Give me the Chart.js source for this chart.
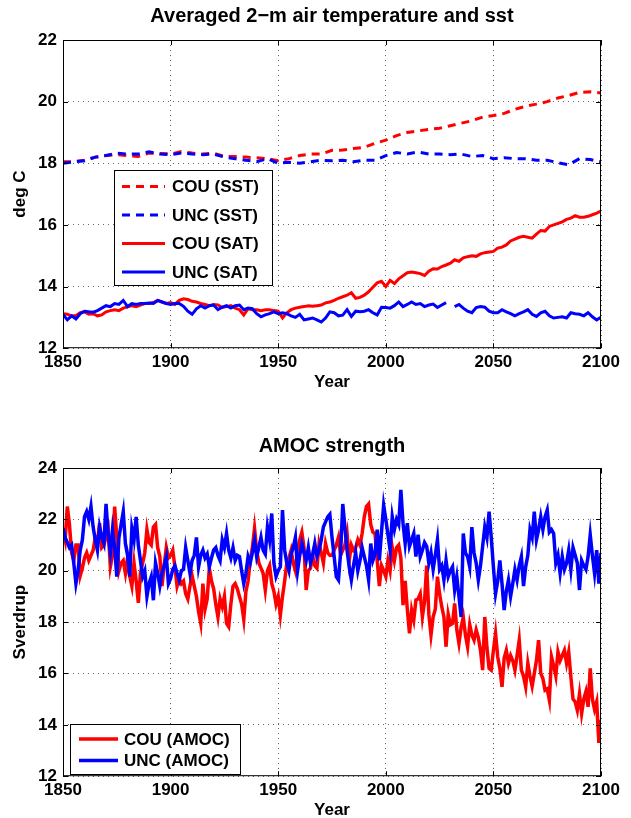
<!DOCTYPE html>
<html>
<head>
<meta charset="utf-8">
<script src="https://cdn.jsdelivr.net/npm/chart.js@4"></script>
<style>
  body { margin: 0; background: #fff; overflow: hidden; width: 631px; height: 818px; position: relative; }
  canvas { position: absolute; left: 0; }
</style>
</head>
<body>
<canvas id="tempChart" width="631" height="393" style="top:0"></canvas>
<canvas id="amocChart" width="631" height="411" style="top:410px"></canvas>
<script>
// years for each series
function yearsStep(a, b, s) {
    const out = [];
    for (let y = a; y <= b; y += s) out.push(y);
    return out;
}
const yearsSST = yearsStep(1850, 2100, 5);
const yearsSAT = yearsStep(1850, 2100, 2);
const yearsAMOC = yearsStep(1850, 2100, 1);

const yearTicks = [1850, 1900, 1950, 2000, 2050, 2100];

// SST, every 5 years
const couSST = [18.05, 18.05, 18.1, 18.2, 18.25, 18.28, 18.25, 18.22, 18.33, 18.32,
    18.3, 18.38, 18.33, 18.3, 18.33, 18.22, 18.22, 18.2, 18.18, 18.15,
    18.08, 18.15, 18.25, 18.3, 18.3, 18.42, 18.43, 18.48, 18.52, 18.65,
    18.75, 18.9, 19.0, 19.05, 19.1, 19.14, 19.22, 19.3, 19.38, 19.5,
    19.55, 19.62, 19.75, 19.85, 19.92, 20.0, 20.12, 20.2, 20.3, 20.32, 20.28];
const uncSST = [18.0, 18.05, 18.08, 18.2, 18.25, 18.33, 18.3, 18.3, 18.37, 18.3,
    18.28, 18.33, 18.3, 18.28, 18.3, 18.2, 18.15, 18.1, 18.05, 18.15,
    18.0, 18.03, 18.0, 18.05, 18.1, 18.08, 18.1, 18.05, 18.1, 18.1,
    18.25, 18.35, 18.3, 18.37, 18.3, 18.3, 18.28, 18.3, 18.22, 18.25,
    18.15, 18.18, 18.15, 18.15, 18.1, 18.1, 18.02, 17.95, 18.15, 18.12, 18.05];

// SAT, every 2 years
const couSAT = [13.12, 13.1, 13.05, 13.05, 13.15, 13.18, 13.1, 13.12, 13.05, 13.08,
    13.18, 13.22, 13.25, 13.22, 13.3, 13.34, 13.38, 13.35, 13.4, 13.45,
    13.45, 13.48, 13.55, 13.5, 13.45, 13.48, 13.42, 13.55, 13.6, 13.58,
    13.52, 13.5, 13.45, 13.42, 13.38, 13.42, 13.4, 13.32, 13.35, 13.38,
    13.3, 13.25, 13.08, 13.28, 13.25, 13.25, 13.22, 13.25, 13.25, 13.22,
    13.2, 12.98, 13.15, 13.25, 13.3, 13.33, 13.35, 13.38, 13.36, 13.38,
    13.4, 13.47, 13.5, 13.55, 13.62, 13.67, 13.72, 13.8, 13.62, 13.65,
    13.72, 13.83, 13.98, 14.12, 14.17, 14.0, 14.2, 14.1, 14.25, 14.35,
    14.45, 14.47, 14.45, 14.42, 14.36, 14.5, 14.58, 14.57, 14.65, 14.7,
    14.76, 14.87, 14.82, 14.93, 14.97, 15.0, 14.98, 15.06, 15.1, 15.12,
    15.14, 15.25, 15.28, 15.35, 15.48, 15.54, 15.6, 15.63, 15.6, 15.57,
    15.7, 15.82, 15.8, 15.95, 16.0, 16.05, 16.1, 16.18, 16.22, 16.3,
    16.25, 16.25, 16.28, 16.33, 16.38, 16.45];
const uncSAT = [13.1, 12.92, 13.05, 12.95, 13.12, 13.2, 13.18, 13.17, 13.22, 13.3,
    13.38, 13.35, 13.45, 13.42, 13.55, 13.35, 13.45, 13.42, 13.45, 13.45,
    13.47, 13.45, 13.55, 13.5, 13.45, 13.42, 13.45, 13.45, 13.36, 13.2,
    13.1, 13.28, 13.38, 13.3, 13.38, 13.4, 13.25, 13.33, 13.38, 13.3,
    13.38, 13.4, 13.25, 13.3, 13.28, 13.12, 13.02, 13.08, 13.12, 13.18,
    13.12, 13.15, 13.12, 13.05, 13.0, 13.1, 12.92, 12.95, 12.98, 12.92,
    12.85, 12.98, 13.18, 13.15, 13.05, 13.07, 13.25, 13.03, 13.2, 13.18,
    13.2, 13.25, 13.15, 13.08, 13.33, 13.32, 13.3, 13.38, 13.5, 13.35,
    13.42, 13.5, 13.42, 13.45, 13.35, 13.4, 13.43, 13.32, 13.4, 13.48,
    null, 13.35, 13.42, 13.3, 13.2, 13.15, 13.32, 13.35, 13.33, 13.2,
    13.15, 13.15, 13.25, 13.18, 13.12, 13.05, 13.12, 13.18, 13.25, 13.1,
    13.03, 13.15, 13.2, 13.05, 12.98, 13.0, 13.02, 12.98, 13.15, 13.12,
    13.1, 13.05, 13.15, 13.02, 12.92, 13.0];

// AMOC, yearly (one row per decade)
const couAMOC = [
    21.6, 21.2, 22.5, 21.8, 20.7, 20.4, 21.0, 21.0, 19.8, 20.1,
    20.5, 20.7, 20.4, 20.6, 20.8, 21.3, 21.1, 21.85, 20.9, 21.0,
    21.3, 21.6, 20.15, 20.6, 22.5, 21.3, 20.0, 20.3, 20.4, 19.9,
    20.5, 19.8, 19.4, 20.3, 19.6, 18.75, 19.9, 20.3, 20.7, 21.6,
    21.1, 21.0, 21.7, 21.8, 20.9, 20.55, 19.4, 20.2, 20.9, 20.5,
    20.6, 20.8, 20.15, 19.4, 19.7, 19.5, 19.6, 19.1, 18.9, 19.4,
    19.8, 19.4, 19.0, 18.4, 17.95, 19.5, 18.5, 18.9, 20.1, 19.6,
    19.3, 18.7, 18.2, 18.9, 18.6, 19.0, 17.95, 17.82, 18.7, 19.4,
    19.5, 19.3, 19.0, 18.7, 18.1, 19.2, 19.6, 20.4, 20.9, 21.65,
    20.8, 20.3, 20.1, 19.9, 19.25, 20.0, 20.2, 19.5, 19.2, 18.7,
    19.0, 18.27, 19.0, 19.6, 20.3, 20.5, 20.8, 20.3, 20.0, 20.8,
    21.2, 21.5, 20.9, 19.25, 20.0, 20.1, 20.6, 20.2, 20.1, 21.06,
    20.7, 20.3, 21.06, 20.7, 20.6, 20.6, 20.8, 21.0, 21.3, 20.6,
    20.8, 21.0, 21.45, 20.4, 21.0, 20.8, 20.9, 21.2, 21.0, 21.45,
    22.1, 22.5, 22.6, 21.8, 21.5, 21.45, 20.4, 19.4, 20.2, 20.0,
    19.77, 20.4, 20.0, 20.9, 20.4, 20.9, 21.0, 20.5, 18.66, 19.6,
    18.5, 17.56, 18.47, 18.08, 18.86, 18.9, 19.1, 18.2, 18.8, 20.2,
    18.3, 17.5, 18.2, 18.5, 19.77, 19.1, 18.6, 18.2, 17.04, 18.3,
    17.9, 17.95, 18.73, 17.7, 17.17, 17.8, 18.2, 17.5, 17.04, 17.9,
    17.5, 17.3, 17.7, 17.4, 16.9, 16.13, 18.2, 17.0, 16.2, 16.13,
    16.9, 17.56, 16.65, 16.2, 15.48, 16.6, 16.9, 16.4, 16.7, 16.5,
    16.13, 16.7, 17.3, 16.13, 15.9, 15.48, 16.4, 15.9, 15.5, 16.0,
    16.5, 17.3, 16.0, 15.8, 15.35, 15.4, 14.96, 16.65, 16.3, 15.9,
    16.84, 16.5, 16.7, 16.9, 16.4, 16.84, 15.87, 15.0, 14.9, 14.57,
    15.2, 14.44, 15.0, 15.3, 14.7, 16.2, 15.0, 14.6, 14.9, 13.3,
    14.2];
const uncAMOC = [
    21.65, 21.3, 21.1, 20.9, 21.0, 20.3, 19.5, 20.0, 20.8, 21.2,
    22.1, 22.3, 22.0, 22.5, 21.7, 21.2, 20.8, 21.7, 21.3, 21.06,
    22.6, 21.4, 20.7, 21.6, 20.9, 19.77, 21.3, 21.8, 22.3, 21.06,
    20.6, 19.77, 21.65, 21.2, 22.1, 21.0, 20.4, 19.77, 20.0, 19.0,
    19.5, 19.77, 18.85, 20.3, 19.9, 19.4, 19.9, 20.2, 20.55, 19.5,
    19.7, 20.05, 20.2, 19.9, 19.64, 20.0, 20.05, 20.9, 20.4, 19.9,
    20.4, 20.6, 21.3, 20.15, 20.6, 20.8, 20.5, 20.65, 20.15, 20.5,
    20.8, 20.9, 20.6, 20.4, 21.2, 20.9, 21.45, 20.8, 20.5, 20.9,
    20.4, 20.6, 20.55, 20.0, 19.5, 19.9, 20.55, 20.3, 20.7, 21.2,
    20.55, 20.9, 21.3, 20.8, 20.65, 21.7, 21.2, 22.23, 20.3, 19.77,
    20.0, 20.15, 22.36, 20.8, 20.3, 20.0, 20.65, 20.9, 21.3, 20.0,
    20.6, 21.06, 20.7, 20.4, 20.9, 20.3, 20.6, 21.06, 20.55, 20.8,
    21.2, 21.7, 21.9, 22.1, 22.2, 21.3, 20.55, 19.77, 19.64, 20.7,
    22.6, 21.7, 20.8, 20.15, 19.64, 20.2, 20.7, 20.0, 20.4, 20.9,
    20.55, 20.2, 19.64, 21.06, 20.4, 20.65, 21.6, 20.4, 21.5, 22.55,
    22.0, 21.4, 20.8, 22.1, 21.6, 22.0, 21.8, 23.15, 21.85, 21.06,
    21.85, 20.95, 21.2, 21.45, 20.55, 21.4, 20.55, 20.8, 21.1, 20.95,
    20.3, 20.7, 20.05, 20.6, 21.2, 20.05, 20.2, 19.64, 20.4, 19.77,
    20.0, 20.15, 19.25, 19.77, 19.0, 18.2, 21.45, 20.7, 20.55, 20.15,
    21.7, 20.7, 20.3, 19.64, 20.2, 20.95, 21.7, 21.3, 22.3, 21.3,
    20.15, 19.1, 19.6, 20.4, 19.5, 18.47, 19.2, 19.64, 19.0, 19.5,
    20.05, 19.64, 20.2, 20.55, 19.4, 20.15, 20.6, 21.6, 21.3, 22.3,
    21.2, 21.6, 22.1, 21.6, 22.1, 22.36, 21.5, 21.6, 21.45, 20.3,
    20.6, 19.9, 20.55, 20.05, 20.3, 20.8, 20.05, 20.9, 20.6, 20.3,
    19.25, 20.4, 20.2, 20.05, 20.55, 21.4, 20.6, 19.9, 20.8, 19.5,
    20.7];

function pts(xs, ys) {
    return xs.map((x, i) => ({ x: x, y: ys[i] }));
}

const FONT = '"Liberation Sans", Arial, Helvetica, sans-serif';
Chart.defaults.font.family = FONT;
Chart.defaults.font.weight = "bold";
Chart.defaults.color = "#000";

// box, inward ticks and legend like matlab
const matlabBox = {
    id: "matlabBox",
    afterDraw(chart, args, opts) {
        const { ctx, chartArea: a } = chart;
        const sx = chart.scales.x, sy = chart.scales.y;
        ctx.save();
        ctx.strokeStyle = "#000";
        ctx.lineWidth = 1;
        ctx.strokeRect(a.left + 0.5, a.top + 0.5, a.width - 1, a.height - 1);
        ctx.beginPath();
        sx.ticks.forEach(t => {
            const px = Math.round(sx.getPixelForValue(t.value)) + 0.5;
            ctx.moveTo(px, a.bottom); ctx.lineTo(px, a.bottom - 5);
            ctx.moveTo(px, a.top); ctx.lineTo(px, a.top + 5);
        });
        sy.ticks.forEach(t => {
            const py = Math.round(sy.getPixelForValue(t.value)) + 0.5;
            ctx.moveTo(a.left, py); ctx.lineTo(a.left + 5, py);
            ctx.moveTo(a.right, py); ctx.lineTo(a.right - 5, py);
        });
        ctx.stroke();

        const L = opts.legend;
        ctx.fillStyle = "#fff";
        ctx.fillRect(L.left, L.top, L.width, L.height);
        ctx.strokeRect(L.left + 0.5, L.top + 0.5, L.width, L.height);
        ctx.font = "bold 17px " + FONT;
        ctx.textBaseline = "middle";
        chart.data.datasets.forEach((ds, i) => {
            const ry = L.rows[i];
            ctx.strokeStyle = ds.borderColor;
            ctx.lineWidth = ds.borderWidth;
            ctx.setLineDash(ds.borderDash || []);
            ctx.beginPath();
            ctx.moveTo(L.line0, ry); ctx.lineTo(L.line1, ry);
            ctx.stroke();
            ctx.setLineDash([]);
            ctx.fillStyle = "#000";
            ctx.fillText(ds.label, L.text, ry + 1);
        });
        ctx.restore();
    }
};

function axes(yMin, yMax, yTitle) {
    const grid = { color: "rgba(0,0,0,0.6)", lineWidth: 1, drawTicks: false };
    const border = { display: false, dash: [1, 4] };
    return {
        x: {
            type: "linear", min: 1850, max: 2100,
            afterBuildTicks: s => { s.ticks = yearTicks.map(v => ({ value: v })); },
            ticks: { padding: 4, font: { size: 17, weight: "bold" }, callback: v => String(v) },
            grid: grid, border: border,
            title: { display: true, text: "Year", font: { size: 17, weight: "bold" }, padding: { top: -4, bottom: 0 } }
        },
        y: {
            min: yMin, max: yMax,
            afterFit: s => { s.width = 63; },
            ticks: { stepSize: 2, padding: 6, font: { size: 17, weight: "bold" } },
            grid: grid, border: border,
            title: { display: true, text: yTitle, font: { size: 17, weight: "bold" }, padding: { top: 10, bottom: 0 } }
        }
    };
}

// Graph temperature
const graphTemp = new Chart(document.getElementById("tempChart"), {
    type: "line",
    data: {
        datasets: [
            { label: "COU (SST)", data: pts(yearsSST, couSST), borderColor: "#ff0000", borderWidth: 3, borderDash: [8, 6], order: 4 },
            { label: "UNC (SST)", data: pts(yearsSST, uncSST), borderColor: "#0000ff", borderWidth: 3, borderDash: [8, 6], order: 3 },
            { label: "COU (SAT)", data: pts(yearsSAT, couSAT), borderColor: "#ff0000", borderWidth: 3, order: 2 },
            { label: "UNC (SAT)", data: pts(yearsSAT, uncSAT), borderColor: "#0000ff", borderWidth: 3, order: 1 }
        ]
    },
    options: {
        responsive: false,
        animation: false,
        spanGaps: false,
        elements: { point: { radius: 0 }, line: { tension: 0 } },
        layout: { padding: { left: 0, right: 30, top: 0, bottom: 0 } },
        scales: axes(12, 22, "deg C"),
        plugins: {
            legend: { display: false },
            tooltip: { enabled: false },
            title: {
                display: true, fullSize: false, text: "Averaged 2\u2212m air temperature and sst",
                color: "#000", font: { size: 20, weight: "bold" }, padding: { top: 4, bottom: 12 }
            },
            matlabBox: {
                legend: { left: 114, top: 170, width: 158, height: 115, rows: [186.5, 215, 243.5, 272], line0: 122, line1: 165, text: 172 }
            }
        }
    },
    plugins: [matlabBox]
});

// Graph AMOC
const graphAmoc = new Chart(document.getElementById("amocChart"), {
    type: "line",
    data: {
        datasets: [
            { label: "COU (AMOC)", data: pts(yearsAMOC, couAMOC), borderColor: "#ff0000", borderWidth: 3.5, order: 2 },
            { label: "UNC (AMOC)", data: pts(yearsAMOC, uncAMOC), borderColor: "#0000ff", borderWidth: 3.5, order: 1 }
        ]
    },
    options: {
        responsive: false,
        animation: false,
        elements: { point: { radius: 0 }, line: { tension: 0 } },
        layout: { padding: { left: 0, right: 30, top: 0, bottom: 0 } },
        scales: axes(12, 24, "Sverdrup"),
        plugins: {
            legend: { display: false },
            tooltip: { enabled: false },
            title: {
                display: true, fullSize: false, text: "AMOC strength",
                color: "#000", font: { size: 20, weight: "bold" }, padding: { top: 24, bottom: 10 }
            },
            matlabBox: {
                legend: { left: 70, top: 314, width: 170, height: 50, rows: [329, 350.5], line0: 79, line1: 118, text: 124 }
            }
        }
    },
    plugins: [matlabBox]
});
</script>
</body>
</html>
